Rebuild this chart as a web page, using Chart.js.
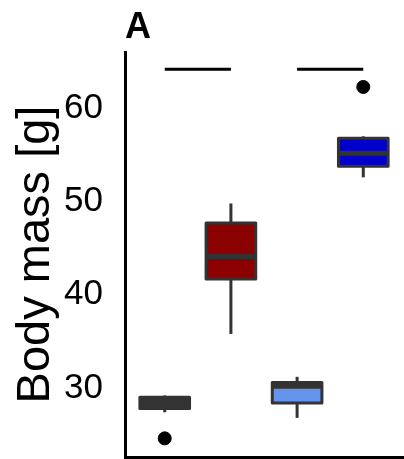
<!DOCTYPE html>
<html>
<head>
<meta charset="utf-8">
<script src="https://cdn.jsdelivr.net/npm/chart.js@4/dist/chart.umd.min.js"></script>
<style>
  html, body { margin: 0; padding: 0; background: #fff; }
  canvas { display: block; }
</style>
</head>
<body>
<canvas id="c" width="404" height="459"></canvas>
<script>
// ---- Data ----
const groups       = [1, 2, 3, 4];
const whiskerLow   = [27.4, 35.8, 26.8, 52.6];
const q1           = [27.8, 41.7, 28.4, 53.8];
const median       = [28.4, 44.1, 30.2, 55.2];
const q3           = [29.0, 47.7, 30.6, 56.8];
const whiskerHigh  = [29.2, 49.8, 31.2, 57.0];
const outlierX     = [1, 4];
const outlierY     = [24.6, 62.3];
const sigPairs     = [[1, 2], [3, 4]];
const sigLevel     = [64.2, 64.2];
const yTicks       = [30, 40, 50, 60];

// ---- Styles ----
const boxFill  = ['#333333', '#8B0000', '#6495ED', '#0000CD'];
const boxLine  = '#333333';
const boxWidth = 0.75;

const boxplotPlugin = {
  id: 'boxplot',
  beforeDatasetsDraw(chart) {
    const ctx = chart.ctx, xs = chart.scales.x, ys = chart.scales.y;
    ctx.save();
    ctx.lineJoin = 'round';
    groups.forEach((g, i) => {
      const cx = xs.getPixelForValue(g);
      const xl = xs.getPixelForValue(g - boxWidth / 2);
      const xr = xs.getPixelForValue(g + boxWidth / 2);
      // whiskers
      ctx.strokeStyle = boxLine;
      ctx.lineWidth = 3;
      ctx.beginPath();
      ctx.moveTo(cx, ys.getPixelForValue(whiskerLow[i]));
      ctx.lineTo(cx, ys.getPixelForValue(whiskerHigh[i]));
      ctx.stroke();
      // box
      const yt = ys.getPixelForValue(q3[i]);
      const yb = ys.getPixelForValue(q1[i]);
      ctx.fillStyle = boxFill[i];
      ctx.fillRect(xl, yt, xr - xl, yb - yt);
      ctx.strokeRect(xl, yt, xr - xl, yb - yt);
      // median
      const ym = ys.getPixelForValue(median[i]);
      ctx.lineWidth = 5;
      ctx.beginPath();
      ctx.moveTo(xl, ym);
      ctx.lineTo(xr, ym);
      ctx.stroke();
    });
    ctx.restore();
  }
};

const datasets = [{
  label: 'outliers',
  data: outlierX.map((x, i) => ({ x, y: outlierY[i] })),
  backgroundColor: '#000',
  borderColor: '#000',
  pointRadius: 6.5,
  showLine: false
}];
sigPairs.forEach((p, i) => {
  datasets.push({
    label: 'sig' + i,
    data: [{ x: p[0], y: sigLevel[i] }, { x: p[1], y: sigLevel[i] }],
    borderColor: '#000',
    borderWidth: 3,
    pointRadius: 0,
    showLine: true
  });
});

Chart.defaults.font.family = "'Liberation Sans', Arial, sans-serif";

new Chart(document.getElementById('c'), {
  type: 'scatter',
  data: { datasets },
  plugins: [boxplotPlugin],
  options: {
    responsive: false,
    animation: false,
    devicePixelRatio: 1,
    layout: { autoPadding: false, padding: { top: 0, right: 1, bottom: 2, left: 1 } },
    plugins: {
      legend: { display: false },
      tooltip: { enabled: false },
      title: {
        display: true,
        text: 'A',
        align: 'start',
        fullSize: false,
        color: '#000',
        font: { size: 36, weight: 'bold', lineHeight: 1 },
        padding: { top: 10, bottom: 6 }
      }
    },
    scales: {
      x: {
        type: 'linear',
        min: 0.4,
        max: 4.6,
        ticks: { display: false },
        grid: { display: false, drawTicks: false },
        border: { display: true, color: '#000', width: 3 },
        afterFit: s => { s.height = 0; s.paddingLeft = 0; s.paddingRight = 0; }
      },
      y: {
        type: 'linear',
        min: 22.6,
        max: 66.05,
        afterBuildTicks: s => { s.ticks = yTicks.map(v => ({ value: v })); },
        afterFit: s => { s.width = 124; s.paddingTop = 0; s.paddingBottom = 0; },
        ticks: { color: '#000', font: { size: 35 }, padding: 22, autoSkip: false },
        grid: { display: false, drawTicks: false },
        border: { display: true, color: '#000', width: 3 },
        title: {
          display: true,
          text: 'Body mass [g]',
          color: '#000',
          font: { size: 47, lineHeight: 1 },
          padding: { top: 12, bottom: 4 }
        }
      }
    }
  }
});
</script>
</body>
</html>
